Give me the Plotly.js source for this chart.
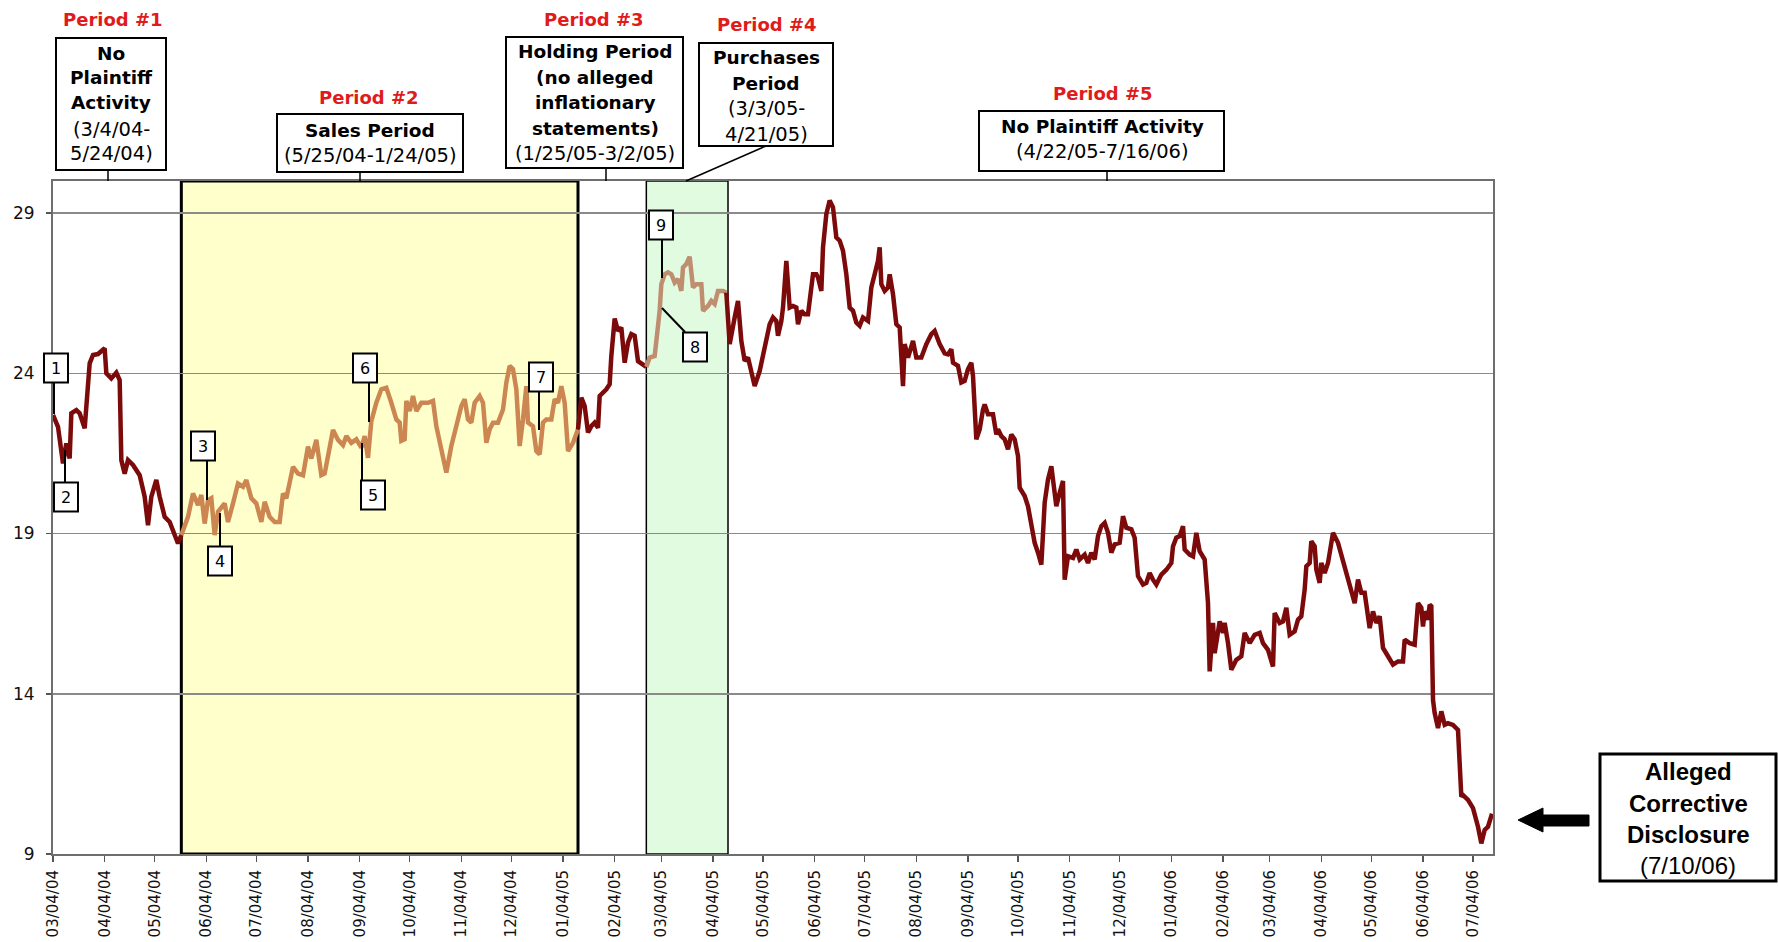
<!DOCTYPE html>
<html>
<head>
<meta charset="utf-8">
<script src="https://cdn.plot.ly/plotly-3.0.1.min.js"></script>
<style>html,body{margin:0;padding:0;background:#fff;}#chart{width:1778px;height:942px;}</style>
</head>
<body>
<div id="chart"></div>
<script>
// ---------------- DATA ----------------
const dates = [
'2004-03-04','2004-03-07','2004-03-10','2004-03-12','2004-03-14','2004-03-15','2004-03-18','2004-03-20','2004-03-23','2004-03-26',
'2004-03-28','2004-03-31','2004-04-04','2004-04-05','2004-04-08','2004-04-11','2004-04-13','2004-04-14','2004-04-16','2004-04-18',
'2004-04-21','2004-04-25','2004-04-28','2004-04-30','2004-05-02','2004-05-05','2004-05-07','2004-05-10','2004-05-13','2004-05-16',
'2004-05-18','2004-05-20','2004-05-24','2004-05-27','2004-05-30','2004-06-01','2004-06-03','2004-06-05','2004-06-07','2004-06-09',
'2004-06-11','2004-06-15','2004-06-17','2004-06-20','2004-06-23','2004-06-26','2004-06-28','2004-07-01','2004-07-04','2004-07-07',
'2004-07-09','2004-07-12','2004-07-15','2004-07-18','2004-07-20','2004-07-22','2004-07-26','2004-07-29','2004-08-01','2004-08-04',
'2004-08-06','2004-08-09','2004-08-12','2004-08-14','2004-08-17','2004-08-19','2004-08-22','2004-08-25','2004-08-27','2004-08-30',
'2004-09-02','2004-09-05','2004-09-07','2004-09-09','2004-09-11','2004-09-14','2004-09-17','2004-09-20','2004-09-23','2004-09-26',
'2004-09-28','2004-09-29','2004-10-01','2004-10-02','2004-10-04','2004-10-06','2004-10-08','2004-10-11','2004-10-15','2004-10-18',
'2004-10-20','2004-10-23','2004-10-26','2004-10-29','2004-11-01','2004-11-04','2004-11-06','2004-11-08','2004-11-10','2004-11-12',
'2004-11-15','2004-11-17','2004-11-19','2004-11-21','2004-11-23','2004-11-26','2004-11-29','2004-12-01','2004-12-03','2004-12-05',
'2004-12-07','2004-12-09','2004-12-11','2004-12-13','2004-12-14','2004-12-17','2004-12-19','2004-12-21','2004-12-23','2004-12-25',
'2004-12-28','2004-12-30','2005-01-01','2005-01-03','2005-01-05','2005-01-07','2005-01-10','2005-01-13','2005-01-15','2005-01-17',
'2005-01-19','2005-01-21','2005-01-23','2005-01-25','2005-01-26','2005-01-30','2005-02-01','2005-02-02','2005-02-04','2005-02-06',
'2005-02-08','2005-02-10','2005-02-12','2005-02-14','2005-02-16','2005-02-18','2005-02-21','2005-02-23','2005-02-25','2005-02-28',
'2005-03-01','2005-03-03','2005-03-04','2005-03-06','2005-03-08','2005-03-10','2005-03-12','2005-03-14','2005-03-16','2005-03-17',
'2005-03-19','2005-03-21','2005-03-23','2005-03-25','2005-03-28','2005-03-29','2005-04-01','2005-04-03','2005-04-05','2005-04-07',
'2005-04-10','2005-04-12','2005-04-14','2005-04-17','2005-04-19','2005-04-21','2005-04-23','2005-04-25','2005-04-27','2005-04-29',
'2005-05-02','2005-05-05','2005-05-08','2005-05-10','2005-05-12','2005-05-13','2005-05-15','2005-05-16','2005-05-18','2005-05-20',
'2005-05-22','2005-05-24','2005-05-25','2005-05-27','2005-05-29','2005-05-31','2005-06-02','2005-06-03','2005-06-05','2005-06-06',
'2005-06-08','2005-06-09','2005-06-11','2005-06-13','2005-06-15','2005-06-17','2005-06-19','2005-06-21','2005-06-23','2005-06-25',
'2005-06-27','2005-06-29','2005-07-01','2005-07-03','2005-07-06','2005-07-08','2005-07-10','2005-07-12','2005-07-13','2005-07-14',
'2005-07-16','2005-07-18','2005-07-19','2005-07-21','2005-07-23','2005-07-25','2005-07-27','2005-07-28','2005-07-30','2005-08-02',
'2005-08-04','2005-08-07','2005-08-10','2005-08-13','2005-08-15','2005-08-18','2005-08-21','2005-08-23','2005-08-25','2005-08-26',
'2005-08-29','2005-08-31','2005-09-02','2005-09-04','2005-09-06','2005-09-07','2005-09-09','2005-09-11','2005-09-13','2005-09-14',
'2005-09-16','2005-09-19','2005-09-21','2005-09-22','2005-09-24','2005-09-26','2005-09-28','2005-09-30','2005-10-02','2005-10-04',
'2005-10-05','2005-10-08','2005-10-10','2005-10-12','2005-10-14','2005-10-16','2005-10-18','2005-10-20','2005-10-22','2005-10-24',
'2005-10-26','2005-10-27','2005-10-29','2005-10-31','2005-11-01','2005-11-03','2005-11-06','2005-11-08','2005-11-10','2005-11-13',
'2005-11-15','2005-11-17','2005-11-19','2005-11-21','2005-11-23','2005-11-25','2005-11-27','2005-11-29','2005-12-01','2005-12-04',
'2005-12-06','2005-12-08','2005-12-11','2005-12-13','2005-12-15','2005-12-18','2005-12-20','2005-12-22','2005-12-24','2005-12-26',
'2005-12-29','2006-01-01','2006-01-04','2006-01-05','2006-01-07','2006-01-09','2006-01-11','2006-01-12','2006-01-15','2006-01-17',
'2006-01-19','2006-01-21','2006-01-24','2006-01-25','2006-01-26','2006-01-27','2006-01-29','2006-01-30','2006-02-02','2006-02-04',
'2006-02-05','2006-02-07','2006-02-09','2006-02-12','2006-02-15','2006-02-17','2006-02-20','2006-02-23','2006-02-26','2006-02-28',
'2006-03-03','2006-03-06','2006-03-07','2006-03-10','2006-03-12','2006-03-14','2006-03-16','2006-03-19','2006-03-21','2006-03-23',
'2006-03-25','2006-03-26','2006-03-28','2006-03-29','2006-03-31','2006-04-01','2006-04-03','2006-04-04','2006-04-06','2006-04-08',
'2006-04-11','2006-04-14','2006-04-17','2006-04-20','2006-04-22','2006-04-24','2006-04-26','2006-04-28','2006-04-30','2006-05-02',
'2006-05-03','2006-05-05','2006-05-07','2006-05-09','2006-05-11','2006-05-14','2006-05-17','2006-05-20','2006-05-23','2006-05-24',
'2006-05-27','2006-05-30','2006-05-31','2006-06-01','2006-06-03','2006-06-04','2006-06-05','2006-06-07','2006-06-08','2006-06-09',
'2006-06-10','2006-06-11','2006-06-13','2006-06-15','2006-06-17','2006-06-19','2006-06-22','2006-06-25','2006-06-27','2006-06-28',
'2006-07-01','2006-07-04','2006-07-07','2006-07-09','2006-07-11','2006-07-13','2006-07-15','2006-07-16'
];
const prices = [
22.70,22.33,21.19,21.81,21.34,22.75,22.85,22.75,22.28,24.31,
24.57,24.60,24.78,24.00,23.84,24.02,23.79,21.29,20.87,21.29,
21.14,20.82,20.15,19.26,20.15,20.67,20.15,19.52,19.36,19.00,
18.69,18.95,19.52,20.25,19.89,20.20,19.31,20.04,20.10,18.95,
19.68,19.94,19.36,19.94,20.56,20.46,20.67,20.10,19.94,19.36,
19.99,19.52,19.36,19.36,20.25,20.10,21.08,20.87,20.82,21.71,
21.34,21.92,20.82,20.87,21.81,22.23,21.92,21.76,22.04,21.83,
21.94,21.68,22.04,21.36,22.51,23.08,23.50,23.55,23.08,22.56,
22.46,21.89,21.94,23.14,22.82,23.29,22.82,23.08,23.08,23.14,
22.35,21.57,20.90,21.73,22.35,22.98,23.19,22.56,22.46,23.08,
23.29,23.08,21.83,22.25,22.46,22.46,22.87,23.71,24.23,24.13,
23.50,21.73,22.56,23.60,22.46,22.35,21.57,21.47,22.46,22.56,
22.56,23.19,23.08,23.60,23.08,21.57,21.83,22.25,23.24,22.98,
22.15,22.35,22.46,22.30,23.29,23.50,23.66,24.54,25.71,25.32,
25.43,24.33,24.96,25.22,25.17,24.38,24.28,24.20,24.49,24.54,
25.01,25.95,26.78,27.09,27.15,27.09,26.83,26.94,26.57,27.30,
27.41,27.64,26.68,26.78,26.78,25.95,26.10,26.26,26.16,26.57,
26.57,26.52,24.91,25.74,26.26,25.01,24.39,24.49,24.07,23.60,
24.07,24.80,25.53,25.74,25.63,25.17,25.63,26.05,27.51,26.05,
26.10,26.05,25.53,25.95,25.84,25.84,26.57,27.09,27.09,26.99,
26.57,27.93,28.97,29.39,29.18,28.24,28.14,27.82,27.09,26.05,
25.95,25.58,25.48,25.74,25.63,26.68,27.09,27.51,27.93,26.78,
26.57,26.68,27.09,26.47,25.53,25.43,23.60,24.91,24.49,25.01,
24.49,24.49,24.91,25.22,25.32,24.91,24.62,24.59,24.75,24.33,
24.23,23.71,23.76,24.13,24.33,23.92,21.94,22.25,22.87,23.03,
22.72,22.72,22.09,22.25,22.04,21.94,21.63,22.09,21.94,21.42,
20.43,20.17,19.85,19.33,18.71,18.40,18.03,19.96,20.69,21.10,
20.17,19.85,20.27,20.64,17.56,18.29,18.24,18.50,18.19,18.34,
18.08,18.40,18.19,18.92,19.23,19.33,19.02,18.40,18.66,18.71,
19.54,19.18,19.13,18.87,17.67,17.41,17.46,17.77,17.56,17.41,
17.72,17.87,18.08,18.60,18.87,18.92,19.23,18.50,18.34,18.29,
19.02,18.45,18.19,17.56,16.83,14.70,16.21,15.27,16.26,15.90,
16.21,15.58,14.75,15.06,15.17,15.90,15.58,15.84,15.90,15.58,
15.37,14.85,16.52,16.21,16.26,16.68,15.84,15.95,16.31,16.42,
17.25,17.98,18.08,18.76,18.60,17.87,17.46,18.08,17.77,18.08,
19.02,18.71,18.14,17.56,17.20,16.83,17.56,17.15,17.15,16.52,
16.05,16.57,16.21,16.42,15.43,15.17,14.91,15.01,15.01,15.69,
15.58,15.53,16.31,16.83,16.68,16.10,16.57,16.31,16.78,16.73,
13.81,13.40,12.93,13.45,13.03,13.08,13.03,12.87,10.79,10.84,
10.69,10.43,9.85,9.33,9.75,9.85,10.19,10.17
];
const tickDates = ['2004-03-04','2004-04-04','2004-05-04','2004-06-04','2004-07-04','2004-08-04','2004-09-04','2004-10-04',
'2004-11-04','2004-12-04','2005-01-04','2005-02-04','2005-03-04','2005-04-04','2005-05-04','2005-06-04','2005-07-04',
'2005-08-04','2005-09-04','2005-10-04','2005-11-04','2005-12-04','2006-01-04','2006-02-04','2006-03-04','2006-04-04',
'2006-05-04','2006-06-04','2006-07-04'];
const tickLabels = ['03/04/04','04/04/04','05/04/04','06/04/04','07/04/04','08/04/04','09/04/04','10/04/04','11/04/04',
'12/04/04','01/04/05','02/04/05','03/04/05','04/04/05','05/04/05','06/04/05','07/04/05','08/04/05','09/04/05','10/04/05',
'11/04/05','12/04/05','01/04/06','02/04/06','03/04/06','04/04/06','05/04/06','06/04/06','07/04/06'];
const yTicks = [9, 14, 19, 24, 29];
const xRange = ['2004-03-04', '2006-07-16'];
const yRange = [9, 30];
// shaded periods as drawn in the reference
const salesPeriod = ['2004-05-20', '2005-01-13'];
const purchasesPeriod = ['2005-02-23', '2005-04-12'];
const purchasesBoxEnd = '2005-04-13';
// period captions
const periodTitles = ['Period #1', 'Period #2', 'Period #3', 'Period #4', 'Period #5'];

// ---------------- STYLE / LAYOUT ----------------
const DARK = '#7d0a0a', TAN2 = '#cc8652', TAN4 = '#bf8e70';
const PL = 53, PR = 1493, PT = 181, PB = 854;
const px = x => (x - PL) / (PR - PL);
const py = y => (PB - y) / (PB - PT);
const FONT = 'DejaVu Sans';

function seg(a, b) {
  const xs = [], ys = [];
  dates.forEach((d, i) => { if ((a === null || d >= a) && (b === null || d <= b)) { xs.push(d); ys.push(prices[i]); } });
  return {xs, ys};
}
function lineTrace(s, color) {
  return {x: s.xs, y: s.ys, type: 'scatter', mode: 'lines', line: {color: color, width: 4.5}, hoverinfo: 'skip'};
}
const traces = [
  lineTrace(seg(null, salesPeriod[0]), DARK),
  lineTrace(seg(salesPeriod[0], salesPeriod[1]), TAN2),
  lineTrace(seg(salesPeriod[1], purchasesPeriod[0]), DARK),
  lineTrace(seg(purchasesPeriod[0], purchasesPeriod[1]), TAN4),
  lineTrace(seg(purchasesPeriod[1], null), DARK)
];

const shapes = [];
const annotations = [];
// shaded period boxes
shapes.push({type: 'rect', xref: 'x', yref: 'paper', x0: salesPeriod[0], x1: salesPeriod[1], y0: 0, y1: 1,
  fillcolor: '#ffffcc', line: {color: '#000', width: 3}, layer: 'below'});
shapes.push({type: 'rect', xref: 'x', yref: 'paper', x0: purchasesPeriod[0], x1: purchasesBoxEnd, y0: 0, y1: 1,
  fillcolor: '#e1fbe1', line: {color: '#000', width: 1.5}, layer: 'below'});

function box(l, t, r, b, w) {
  shapes.push({type: 'rect', xref: 'paper', yref: 'paper', x0: px(l), x1: px(r), y0: py(b), y1: py(t),
    fillcolor: '#fff', line: {color: '#000', width: w || 2}, layer: 'above'});
}
function seglinePx(x0, y0, x1, y1, w) {
  shapes.push({type: 'line', xref: 'paper', yref: 'paper', x0: px(x0), x1: px(x1), y0: py(y0), y1: py(y1),
    line: {color: '#000', width: w || 2}, layer: 'above'});
}
function txt(text, cx, cy, size, opts) {
  opts = opts || {};
  annotations.push({xref: 'paper', yref: 'paper', x: px(cx), y: py(cy), xanchor: 'center', yanchor: 'middle',
    showarrow: false, text: text,
    font: {family: opts.family || FONT, size: size, color: opts.color || '#000'}});
}
const RED = '#e01b1b';
// Period captions
txt('<b>' + periodTitles[0] + '</b>', 113, 20, 18, {color: RED});
txt('<b>' + periodTitles[1] + '</b>', 369, 97, 18, {color: RED});
txt('<b>' + periodTitles[2] + '</b>', 594, 20, 18, {color: RED});
txt('<b>' + periodTitles[3] + '</b>', 767, 25, 18, {color: RED});
txt('<b>' + periodTitles[4] + '</b>', 1103, 93, 18, {color: RED});

// Box 1
box(56, 38, 166, 170); seglinePx(108, 170, 108, 181, 1.5);
txt('<b>No</b>', 111, 53, 18.5); txt('<b>Plaintiff</b>', 111, 77, 18.5); txt('<b>Activity</b>', 111, 103, 18.5);
txt('(3/4/04-', 111, 129, 19.5); txt('5/24/04)', 111, 154, 19.5);
// Box 2
box(277, 114, 463, 172); seglinePx(360, 172, 360, 181, 1.5);
txt('<b>Sales Period</b>', 370, 130, 18.5); txt('(5/25/04-1/24/05)', 370, 156, 19.5);
// Box 3
box(506, 37, 683, 168); seglinePx(606, 168, 606, 181, 1.5);
txt('<b>Holding Period</b>', 595, 51, 18.5); txt('<b>(no alleged</b>', 595, 77, 18.5);
txt('<b>inflationary</b>', 595, 103, 18.5); txt('<b>statements)</b>', 595, 128, 18.5);
txt('(1/25/05-3/2/05)', 595, 154, 19.5);
// Box 4
box(699, 43, 833, 146); seglinePx(766, 146, 686, 181, 1.5);
txt('<b>Purchases</b>', 766, 58, 18.5); txt('<b>Period</b>', 766, 83, 18.5);
txt('(3/3/05-', 766, 109, 19.5); txt('4/21/05)', 766, 134, 19.5);
// Box 5
box(979, 111, 1224, 171); seglinePx(1107, 171, 1107, 181, 1.5);
txt('<b>No Plaintiff Activity</b>', 1102, 126, 18.5); txt('(4/22/05-7/16/06)', 1102, 152, 19.5);
// Right box
box(1600, 754, 1776, 881, 3);
txt('<b>Alleged</b>', 1688, 771, 24, {family: 'Liberation Sans'});
txt('<b>Corrective</b>', 1688, 803, 24, {family: 'Liberation Sans'});
txt('<b>Disclosure</b>', 1688, 834, 24, {family: 'Liberation Sans'});
txt('(7/10/06)', 1688, 865, 24, {family: 'Liberation Sans'});
// Arrow
shapes.push({type: 'path', xref: 'paper', yref: 'paper', layer: 'above', fillcolor: '#000', line: {color: '#000', width: 1},
  path: 'M' + px(1518) + ',' + py(820) + ' L' + px(1543) + ',' + py(808) + ' L' + px(1543) + ',' + py(815) +
        ' L' + px(1589) + ',' + py(815) + ' L' + px(1589) + ',' + py(826) + ' L' + px(1543) + ',' + py(826) +
        ' L' + px(1543) + ',' + py(832) + ' Z'});

// numbered markers: [label, box center x, box center y, leader x0, y0, x1, y1]
const markers = [
  ['1', 56, 368, 54, 383, 54, 414],
  ['2', 66, 497, 65, 483, 65, 450],
  ['3', 203, 446, 207, 461, 207, 500],
  ['4', 220, 561, 220, 546, 220, 513],
  ['5', 373, 495, 362, 481, 362, 443],
  ['6', 365, 368, 369, 383, 369, 422],
  ['7', 541, 377, 539, 391, 539, 430],
  ['8', 695, 347, 685, 332, 662, 308],
  ['9', 661, 225, 662, 240, 662, 278]
];
markers.forEach(m => {
  seglinePx(m[3], m[4], m[5], m[6], 2);
  box(m[1] - 12, m[2] - 14.5, m[1] + 12, m[2] + 14.5, 2);
  txt(m[0], m[1], m[2], 16);
});

const layout = {
  width: 1778, height: 942,
  margin: {l: PL, r: 1778 - PR, t: PT, b: 942 - PB, pad: 0},
  paper_bgcolor: '#fff', plot_bgcolor: '#fff',
  showlegend: false,
  font: {family: FONT, size: 16, color: '#111'},
  xaxis: {type: 'date', range: xRange, tickmode: 'array', tickvals: tickDates, ticktext: tickLabels,
    tickangle: -90, ticks: 'outside', ticklen: 6, tickwidth: 1.5, tickcolor: '#555', showgrid: false,
    showline: true, linecolor: '#6e6e6e', linewidth: 2, mirror: true, zeroline: false,
    tickfont: {family: FONT, size: 15, color: '#111'}, ticklabelstandoff: 2, fixedrange: true},
  yaxis: {range: yRange, tickmode: 'array', tickvals: yTicks, ticks: 'outside', ticklen: 5, tickwidth: 1.5,
    tickcolor: '#555', showgrid: true, gridcolor: '#8a8a8a', gridwidth: 1.5, showline: true,
    linecolor: '#6e6e6e', linewidth: 2, mirror: true, zeroline: false,
    tickfont: {family: FONT, size: 17, color: '#111'}, ticklabelstandoff: 8, fixedrange: true},
  shapes: shapes,
  annotations: annotations
};
Plotly.newPlot('chart', traces, layout, {displayModeBar: false, staticPlot: true});
</script>
</body>
</html>
